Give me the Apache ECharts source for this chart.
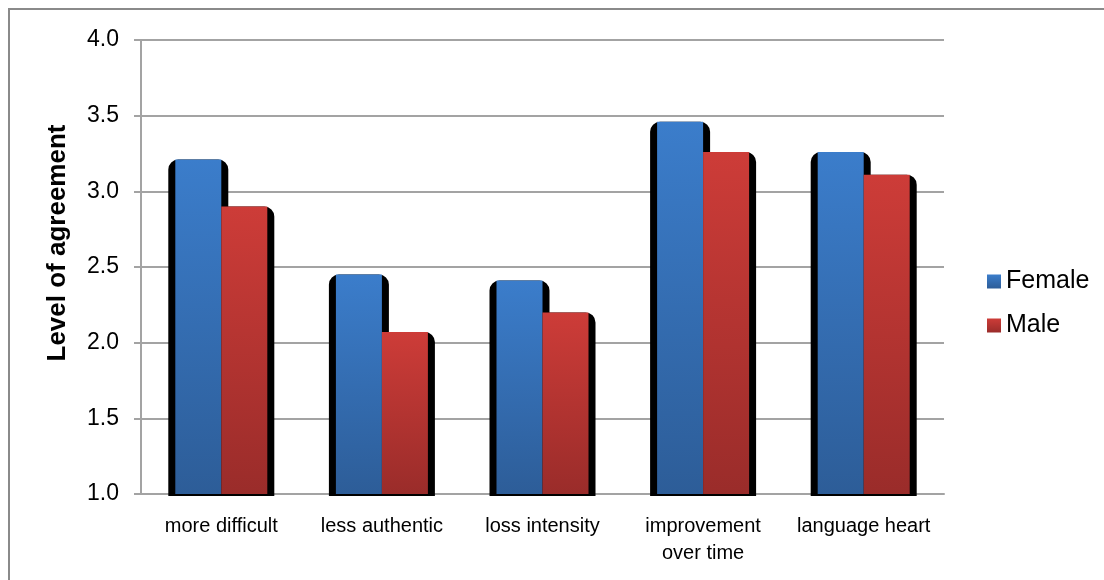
<!DOCTYPE html>
<html>
<head>
<meta charset="utf-8">
<title>Level of agreement</title>
<script src="https://cdn.jsdelivr.net/npm/echarts@6/dist/echarts.min.js"></script>
<style>
    html, body { margin: 0; padding: 0; background: #fff; }
    #chart1 { width: 1104px; height: 580px; }
</style>
</head>
<body>
<div id="chart1"></div>
<script>
var categories = ['more difficult', 'less authentic', 'loss intensity', 'improvement\nover time', 'language heart'];
var femaleData = [3.21, 2.45, 2.41, 3.46, 3.26];
var maleData = [2.90, 2.07, 2.20, 3.26, 3.11];
var yMin = 1.0, yMax = 4.0, yStep = 0.5;
var seriesNames = ['Female', 'Male'];

var fontName = "'Liberation Sans', Arial, sans-serif";
var gridColor = '#a3a3a3';

function grad(top, bottom) {
    return new echarts.graphic.LinearGradient(0, 0, 0, 1, [
        { offset: 0, color: top },
        { offset: 1, color: bottom }
    ]);
}

var chart1 = echarts.init(document.getElementById('chart1'));

var option = {
    backgroundColor: '#fff',
    animation: false,
    textStyle: { fontFamily: fontName },
    grid: { left: 141, right: 160, top: 40, bottom: 86 },
    graphic: [{
        type: 'rect',
        shape: { x: 9, y: 9, width: 1200, height: 700 },
        style: { fill: 'none', stroke: '#8a8a8a', lineWidth: 2 },
        silent: true
    }, {
        type: 'text',
        x: 58,
        y: 243,
        rotation: Math.PI / 2,
        style: {
            text: 'Level of agreement',
            font: 'bold 26px ' + fontName,
            fill: '#000',
            align: 'center',
            verticalAlign: 'middle'
        }
    }],
    legend: {
        data: seriesNames,
        orient: 'vertical',
        left: 982,
        top: 264,
        icon: 'rect',
        itemWidth: 14,
        itemHeight: 14,
        itemGap: 19,
        textStyle: { fontSize: 25, lineHeight: 25, color: '#000', fontFamily: fontName }
    },
    xAxis: [{
        type: 'category',
        data: categories,
        axisLine: { lineStyle: { color: gridColor, width: 2 } },
        axisTick: { length: 8, lineStyle: { color: gridColor, width: 2 } },
        axisLabel: { color: '#000', fontSize: 20, lineHeight: 27, margin: 19, interval: 0, fontFamily: fontName }
    }, {
        type: 'category',
        data: categories,
        show: false
    }],
    yAxis: {
        type: 'value',
        min: yMin,
        max: yMax,
        interval: yStep,
        axisLine: { show: true, lineStyle: { color: gridColor, width: 2 } },
        axisTick: { show: true, length: 7, lineStyle: { color: gridColor, width: 2 } },
        axisLabel: {
            color: '#000',
            fontSize: 23,
            margin: 22,
            fontFamily: fontName,
            formatter: function(v) { return v.toFixed(1); }
        },
        splitLine: { lineStyle: { color: gridColor, width: 2 } }
    },
    series: [{
        // black rounded backing behind each bar
        name: 'shadowF',
        type: 'bar',
        xAxisIndex: 1,
        data: femaleData,
        barWidth: 60,
        barGap: '-23.33%',
        z: 1,
        silent: true,
        itemStyle: { color: '#000', borderColor: '#000', borderWidth: 4, borderRadius: [8, 8, 0, 0] }
    }, {
        name: 'shadowM',
        type: 'bar',
        xAxisIndex: 1,
        data: maleData,
        barWidth: 60,
        barGap: '-23.33%',
        z: 1,
        silent: true,
        itemStyle: { color: '#000', borderColor: '#000', borderWidth: 4, borderRadius: [8, 8, 0, 0] }
    }, {
        name: 'Female',
        type: 'bar',
        data: femaleData,
        barWidth: 46,
        barGap: '0%',
        z: 3,
        itemStyle: { color: grad('#3b7dcb', '#2d5d98') }
    }, {
        name: 'Male',
        type: 'bar',
        data: maleData,
        barWidth: 46,
        barGap: '0%',
        z: 3,
        itemStyle: { color: grad('#cd3c38', '#9a2c2a') }
    }]
};
chart1.setOption(option);
</script>
</body>
</html>
